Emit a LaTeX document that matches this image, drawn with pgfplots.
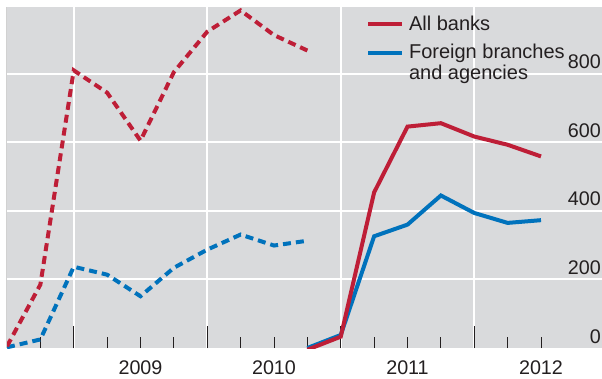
\documentclass[border=0pt]{standalone}
\usepackage{fontspec}
\setmainfont{Liberation Sans}
\usepackage{pgfplots}
\pgfplotsset{compat=1.18}
\definecolor{bgray}{HTML}{D9DADC}
\definecolor{bred}{HTML}{BE1E37}
\definecolor{bblue}{HTML}{0072BC}
\definecolor{txt}{HTML}{231F20}
\begin{document}
\begin{tikzpicture}
\path[use as bounding box] (-5.25pt,-22.5pt) rectangle (446.25pt,261pt);
\begin{axis}[
  name=ax,
  at={(0pt,0pt)}, anchor=south west,
  scale only axis, width=446.25pt, height=255.75pt,
  xmin=2008.5, xmax=2012.957, ymin=0, ymax=995,
  axis background/.style={fill=bgray},
  axis line style={draw=none},
  tick pos=left,
  tick align=inside,
  xtick={2009.5,2010.5,2011.5,2012.5},
  xticklabels={2009,2010,2011,2012},
  minor xtick={2008.75,2009,2009.25,2009.5,2009.75,2010,2010.25,2010.5,2010.75,2011,2011.25,2011.5,2011.75,2012,2012.25,2012.5},
  major tick length=0pt,
  minor tick length=8.25pt,
  extra x ticks={2009,2010,2011,2012},
  extra x tick labels={},
  extra x tick style={major tick length=16.5pt, xmajorgrids=true},
  ytick={200,400,600,800},
  extra y ticks={0},
  extra y tick style={ymajorgrids=false},
  ymajorgrids=true,
  major grid style={white, line width=1.5pt},
  tick style={color=txt, line width=0.75pt},
  yticklabel pos=right,
  ticklabel style={font=\fontsize{14.8}{17}\selectfont, text=txt},
  yticklabel style={anchor=base east, inner sep=0pt, xshift=-0.75pt, yshift=3.75pt},
  xticklabel style={anchor=base, inner sep=0pt, yshift=-20pt},
  /pgf/number format/assume math mode=true,
  legend style={at={(rel axis cs:0.603,0.99)}, anchor=north west, draw=none, fill=none, inner sep=0pt, row sep=1.6pt, nodes={inner sep=3.75pt, align=left, text=txt}, font=\fontsize{15}{15.2}\selectfont},
  legend cell align=left,
  legend image code/.code={\draw[#1] (0pt,0pt) -- (25.5pt,0pt);},
]
% earlier period (dashed)
\addplot[bblue, line width=3pt, dash pattern=on 6pt off 3.75pt, forget plot] coordinates {
 (2008.5,2) (2008.75,25) (2009,237) (2009.25,214) (2009.5,151) (2009.75,234)
 (2010,287) (2010.25,331) (2010.5,299) (2010.75,313)};
\addplot[bred, line width=3pt, dash pattern=on 6pt off 3.75pt, forget plot] coordinates {
 (2008.5,5) (2008.75,185) (2009,810) (2009.25,745) (2009.5,605) (2009.75,805)
 (2010,923) (2010.25,985) (2010.5,913) (2010.75,868)};
% later period (solid)
\addplot[bblue, line width=3pt, forget plot] coordinates {
 (2010.75,0) (2011,38) (2011.25,326) (2011.5,360) (2011.75,445) (2012,394)
 (2012.25,365) (2012.5,373)};
\addplot[bred, line width=3pt, forget plot] coordinates {
 (2010.75,-5) (2011,33) (2011.25,454) (2011.5,646) (2011.75,656) (2012,617)
 (2012.25,593) (2012.5,559)};
\addlegendimage{bred, line width=3pt}
\addlegendentry{All banks}
\addlegendimage{legend image code/.code={\draw[bblue, line width=3pt] (0pt,7.6pt) -- (25.5pt,7.6pt);}}
\addlegendentry{Foreign branches\\and agencies}
\end{axis}
\draw[black!18, line width=0.75pt] ([xshift=-0.5pt]ax.south west) -- ([xshift=-0.5pt]ax.north west);
\end{tikzpicture}
\end{document}
